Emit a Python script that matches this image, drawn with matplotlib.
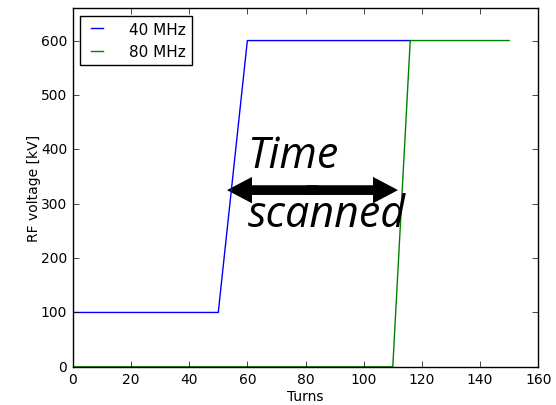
import matplotlib.pyplot as plt
from matplotlib.patches import FancyArrowPatch

# RF voltage program for the two cavities
turns_40 = [0, 50, 60, 116]
volts_40 = [100, 100, 600, 600]
turns_80 = [0, 110, 116, 150]
volts_80 = [0, 0, 600, 600]

# scanned window shown by the double arrow
scan_start, scan_end, scan_level = 53.0, 111.8, 325

plt.style.use('classic')

fig = plt.figure(figsize=(5.56, 4.06), dpi=100, facecolor='white')
ax = fig.add_axes([0.131, 0.094, 0.837, 0.884])

ax.plot(turns_40, volts_40, color='b', lw=1, label='40 MHz')
ax.plot(turns_80, volts_80, color='g', lw=1, label='80 MHz')

ax.set_xlim(0, 160)
ax.set_ylim(0, 660)
ax.set_xlabel('Turns', fontsize=10, labelpad=2)
ax.set_ylabel('RF voltage [kV]', fontsize=10, labelpad=0)
ax.tick_params(labelsize=10)

# double headed arrow, drawn as two filled arrows overlapping in the middle
mid = (scan_start + scan_end) / 2
for start, end in ((mid + 2, scan_start), (mid - 2, scan_end)):
    arr = FancyArrowPatch((start, scan_level), (end, scan_level),
                          arrowstyle='simple,head_length=18,head_width=19,tail_width=7',
                          mutation_scale=1, color='k', lw=0, shrinkA=0, shrinkB=0)
    ax.add_patch(arr)

ax.text(60, 367, 'Time', fontsize=31, style='italic', family='Open Sans')
ax.text(60, 259, 'scanned', fontsize=31, style='italic', family='Open Sans')

ax.legend(loc='upper left', fontsize=11, handlelength=1.4, handletextpad=1.4)

fig.savefig('out.png', dpi=100, facecolor='white')
